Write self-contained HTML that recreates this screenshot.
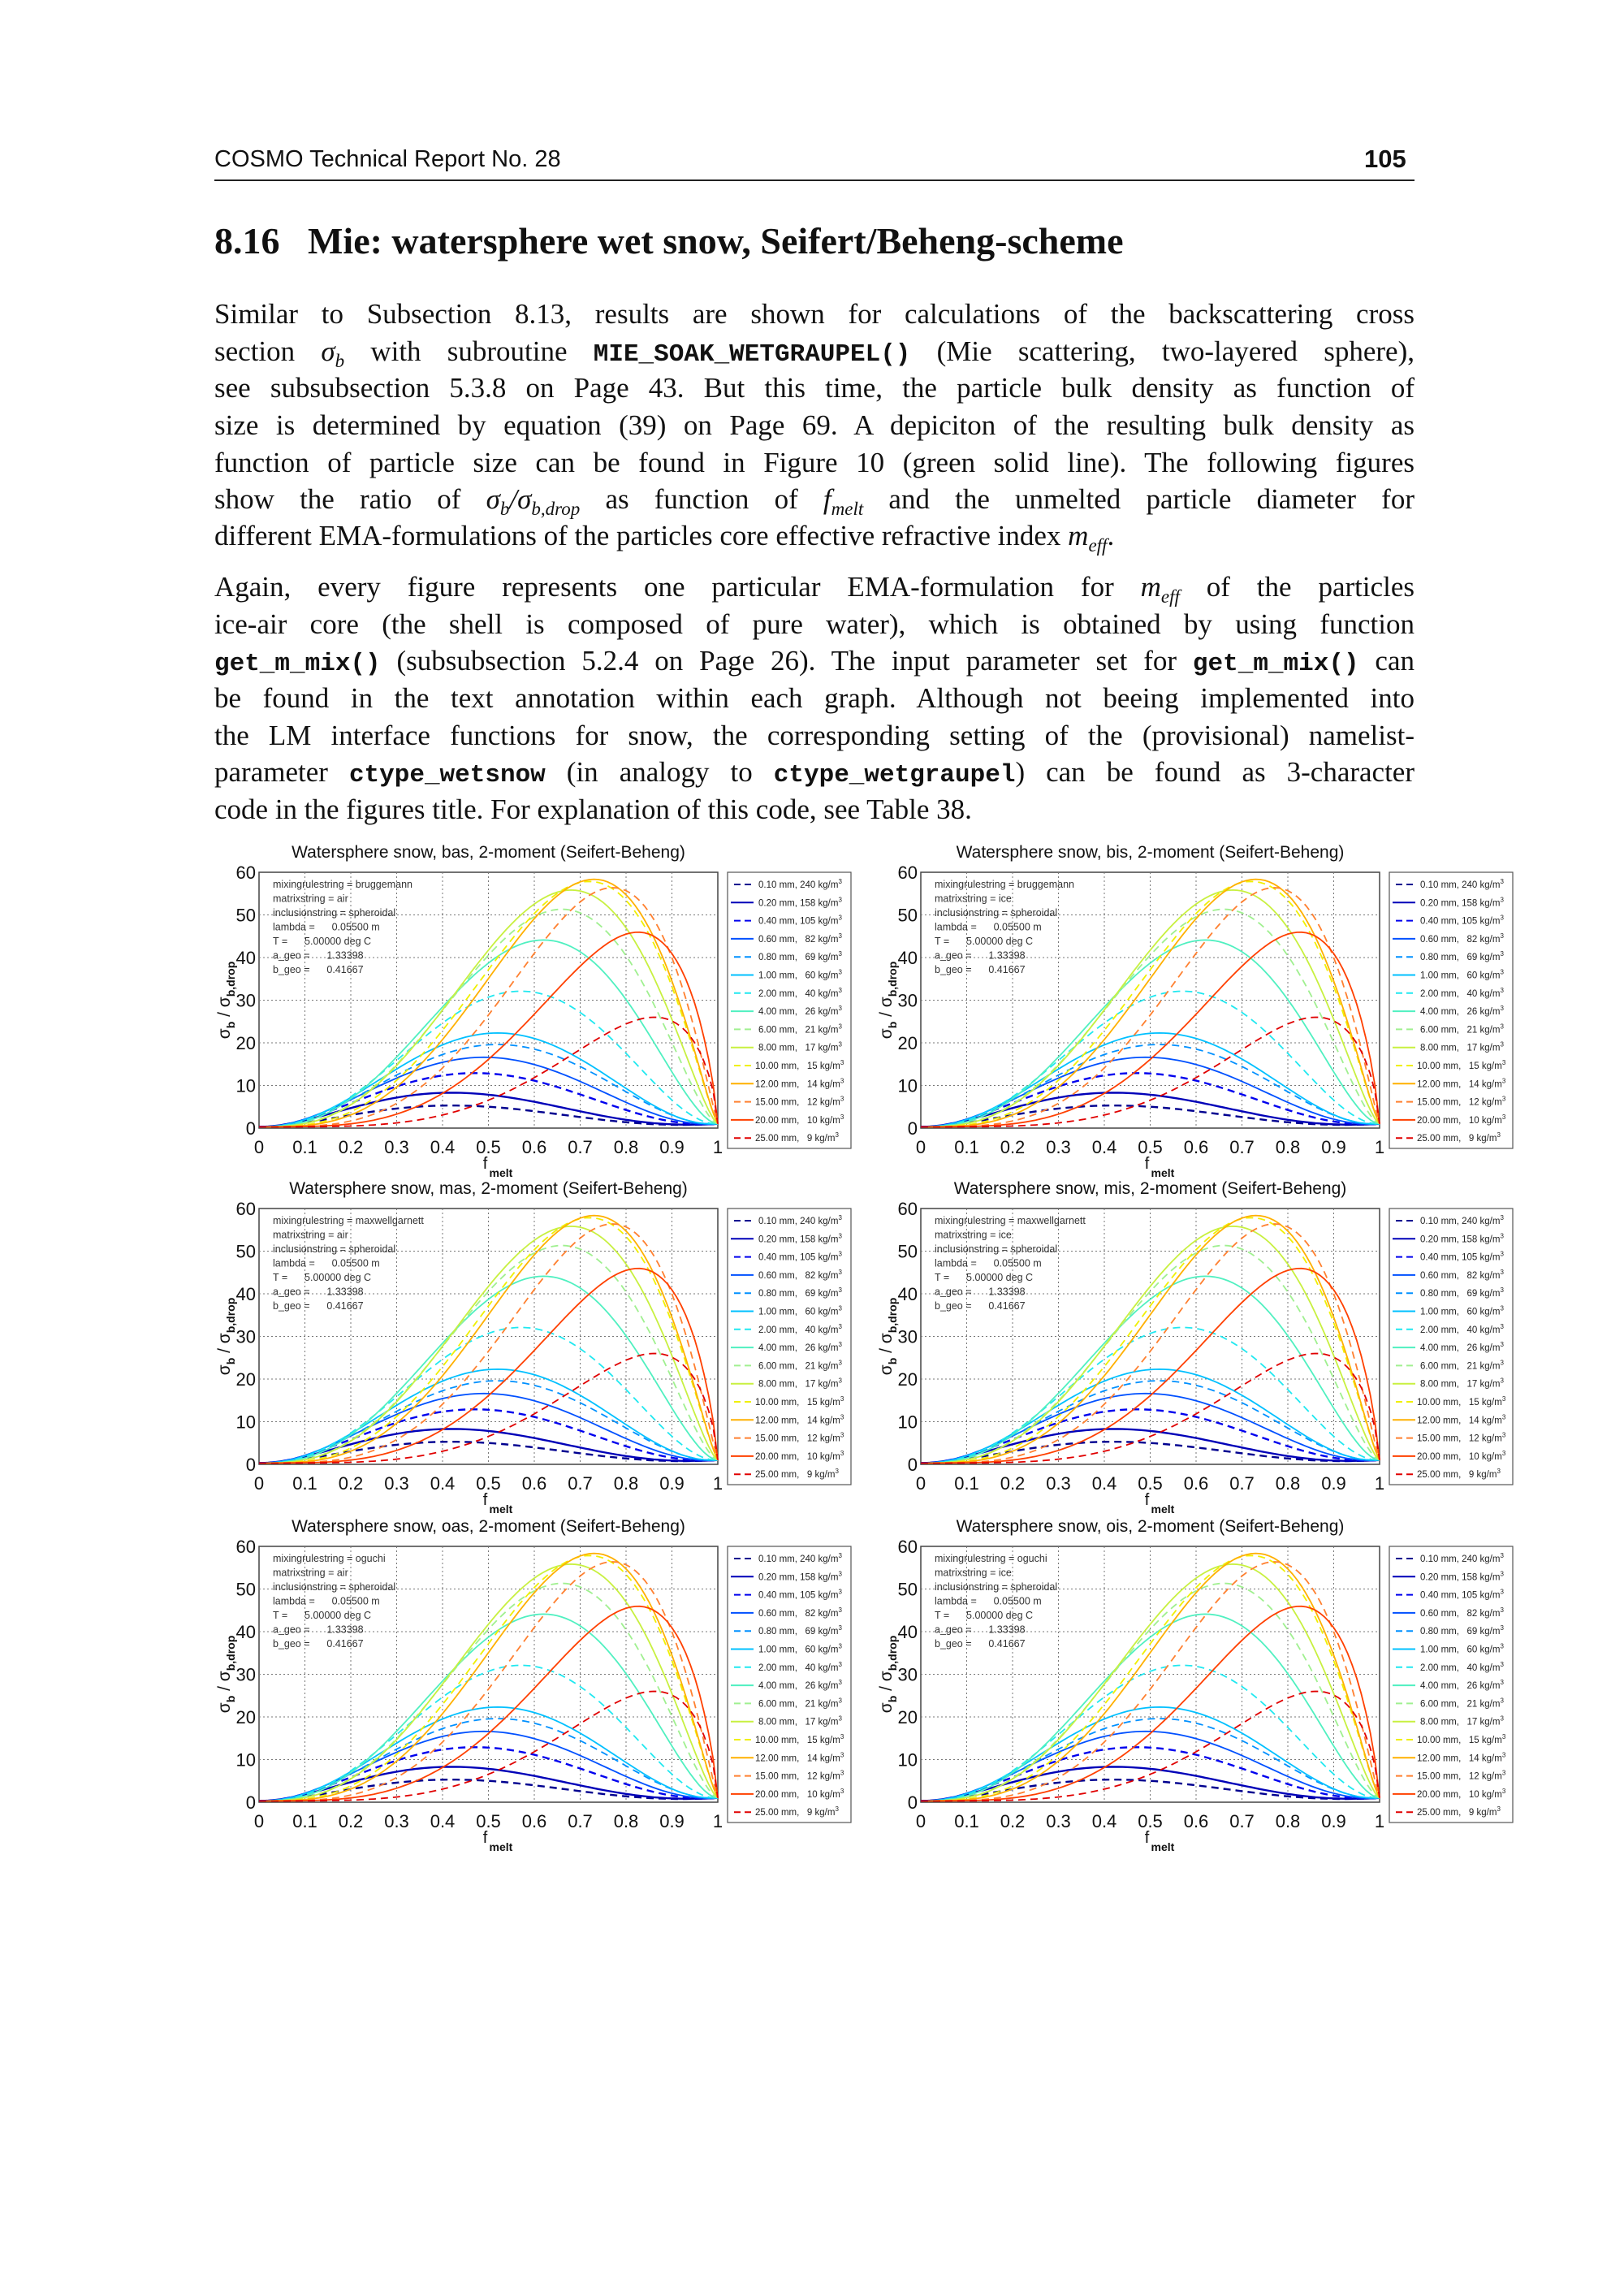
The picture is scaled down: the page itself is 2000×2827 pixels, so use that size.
<!DOCTYPE html>
<html><head><meta charset="utf-8">
<style>
html,body{margin:0;padding:0;background:#fff;}
body{width:2000px;height:2827px;position:relative;overflow:hidden;}
.ab{position:absolute;white-space:nowrap;}
.ln{position:absolute;left:264px;width:1478px;height:46px;line-height:46px;font-family:"Liberation Serif",serif;font-size:35px;color:#111;text-align:justify;text-align-last:justify;white-space:nowrap;}
.ln.last{text-align-last:left;}
.tt{font-family:"Liberation Mono",monospace;font-size:31px;}
.tt b{font-weight:bold;}
i{font-style:italic;}
</style></head><body>
<div class="ab" style="left:264px;top:180px;font-family:'Liberation Sans',sans-serif;font-size:29px;color:#111;">COSMO Technical Report No. 28</div>
<div class="ab" style="left:1680px;top:178px;font-family:'Liberation Sans',sans-serif;font-size:31px;font-weight:bold;color:#111;">105</div>
<div class="ab" style="left:264px;top:221px;width:1478px;height:2px;background:#222;"></div>
<div class="ab" style="left:264px;top:270px;font-family:'Liberation Serif',serif;font-size:46px;font-weight:bold;color:#111;">8.16&nbsp;&nbsp;&nbsp;Mie: watersphere wet snow, Seifert/Beheng-scheme</div>

<div class="ln" style="top:364px">Similar to Subsection 8.13, results are shown for calculations of the backscattering cross</div>
<div class="ln" style="top:410px">section <i>σ<sub style="font-size:23px">b</sub></i> with subroutine <span class="tt"><b>MIE_SOAK_WETGRAUPEL()</b></span> (Mie scattering, two-layered sphere),</div>
<div class="ln" style="top:455px">see subsubsection 5.3.8 on Page 43. But this time, the particle bulk density as function of</div>
<div class="ln" style="top:501px">size is determined by equation (39) on Page 69. A depiciton of the resulting bulk density as</div>
<div class="ln" style="top:547px">function of particle size can be found in Figure 10 (green solid line). The following figures</div>
<div class="ln" style="top:592px">show the ratio of <i>σ<sub style="font-size:23px">b</sub>/σ<sub style="font-size:23px">b,drop</sub></i> as function of <i>f<sub style="font-size:23px">melt</sub></i> and the unmelted particle diameter for</div>
<div class="ln last" style="top:637px">different EMA-formulations of the particles core effective refractive index <i>m<sub style="font-size:23px">eff</sub></i>.</div>

<div class="ln" style="top:700px">Again, every figure represents one particular EMA-formulation for <i>m<sub style="font-size:23px">eff</sub></i> of the particles</div>
<div class="ln" style="top:746px">ice-air core (the shell is composed of pure water), which is obtained by using function</div>
<div class="ln" style="top:791px"><span class="tt"><b>get_m_mix()</b></span> (subsubsection 5.2.4 on Page 26). The input parameter set for <span class="tt"><b>get_m_mix()</b></span> can</div>
<div class="ln" style="top:837px">be found in the text annotation within each graph. Although not beeing implemented into</div>
<div class="ln" style="top:883px">the LM interface functions for snow, the corresponding setting of the (provisional) namelist-</div>
<div class="ln" style="top:928px">parameter <span class="tt"><b>ctype_wetsnow</b></span> (in analogy to <span class="tt"><b>ctype_wetgraupel</b></span>) can be found as 3-character</div>
<div class="ln last" style="top:974px">code in the figures title. For explanation of this code, see Table 38.</div>

<svg id="ch" class="ab" style="left:0;top:0" width="2000" height="2827" xmlns="http://www.w3.org/2000/svg"></svg>
<script>
var S=[
[0.10,240,'#00008f',1,0.42,5,2.0],
[0.20,158,'#0000b8',0,0.42,8,2.0],
[0.40,105,'#0000ee',1,0.47,12.6,2.1],
[0.60,82,'#0050ff',0,0.49,16.3,2.2],
[0.80,69,'#0090ff',1,0.52,19.3,2.3],
[1.00,60,'#00c0ff',0,0.52,22,2.4],
[2.00,40,'#20e8f0',1,0.57,31.8,2.6],
[4.00,26,'#50f0c0',0,0.62,43.8,2.8],
[6.00,21,'#a0f090',1,0.66,51,3.0],
[8.00,17,'#c8f040',0,0.68,55.5,3.0],
[10.00,15,'#f0f000',1,0.72,57.5,3.2],
[12.00,14,'#ffb000',0,0.73,58,3.4],
[15.00,12,'#ff8030',1,0.77,56,3.8],
[20.00,10,'#ff4000',0,0.825,45.5,3.8],
[25.00,9,'#e00000',1,0.86,25.5,4.2]];
var charts=[['bas','bruggemann','air',319,1074],['bis','bruggemann','ice',1134,1074],
['mas','maxwellgarnett','air',319,1488],['mis','maxwellgarnett','ice',1134,1488],
['oas','oguchi','air',319,1904],['ois','oguchi','ice',1134,1904]];
var W=565,H=315,o='';
var F='font-family="Liberation Sans, sans-serif"';
charts.forEach(function(c){
 var L=c[3],T=c[4],B=T+H,R=L+W;
 o+='<text x="'+(L+W/2)+'" y="'+(T-18)+'" '+F+' font-size="21" text-anchor="middle" fill="#111">Watersphere snow, '+c[0]+', 2-moment (Seifert-Beheng)</text>';
 o+='<rect x="'+L+'" y="'+T+'" width="'+W+'" height="'+H+'" fill="#fff" stroke="#444" stroke-width="1.5"/>';
 for(var i=1;i<10;i++){var x=L+W*i/10;o+='<line x1="'+x+'" y1="'+T+'" x2="'+x+'" y2="'+B+'" stroke="#777" stroke-dasharray="2,3"/>';}
 for(var j=1;j<6;j++){var y=B-H*j/6;o+='<line x1="'+L+'" y1="'+y+'" x2="'+R+'" y2="'+y+'" stroke="#777" stroke-dasharray="2,3"/>';}
 for(var i=0;i<=10;i++){var x=L+W*i/10;o+='<text x="'+x+'" y="'+(B+31)+'" '+F+' font-size="22" text-anchor="middle" fill="#111">'+(i==0?'0':i==10?'1':'0.'+i)+'</text>';}
 for(var j=0;j<=6;j++){var y=B-H*j/6;o+='<text x="'+(L-4)+'" y="'+(y+8)+'" '+F+' font-size="22" text-anchor="end" fill="#111">'+(j*10)+'</text>';}
 o+='<text x="'+(L+W/2-4)+'" y="'+(B+50)+'" '+F+' font-size="20" text-anchor="middle" fill="#111">f</text><text x="'+(L+W/2+1)+'" y="'+(B+60)+'" '+F+' font-size="14" font-weight="bold" fill="#111">melt</text>';
 o+='<text transform="translate('+(L-36)+','+(T+H/2)+') rotate(-90)" '+F+' font-size="21" text-anchor="middle" fill="#111">σ<tspan font-size="14" dy="6" font-weight="bold">b</tspan><tspan dy="-6"> / σ</tspan><tspan font-size="14" dy="6" font-weight="bold">b,drop</tspan></text>';
 var ann=['mixingrulestring = '+c[1],'matrixstring = '+c[2],'inclusionstring = spheroidal','lambda =      0.05500 m','T =      5.00000 deg C','a_geo =      1.33398','b_geo =      0.41667'];
 ann.forEach(function(a,k){o+='<text x="'+(L+17)+'" y="'+(T+19+k*17.5)+'" '+F+' font-size="12.5" fill="#333" xml:space="preserve">'+a+'</text>';});
 S.forEach(function(s){
  var xp=s[4],P=s[5],a=s[6],b=a*(1-xp)/xp,pts=[];
  for(var k=0;k<=100;k++){var x=k/100;var g=Math.pow(x/xp,a)*Math.pow((1-x)/(1-xp),b);var v=P*g+0.3+0.7*Math.pow(x,8);
   pts.push((L+W*x).toFixed(1)+','+(B-H*v/60).toFixed(1));}
  o+='<polyline points="'+pts.join(' ')+'" fill="none" stroke="'+s[2]+'" stroke-width="'+(s[0]<0.5?2.4:1.8)+'"'+(s[3]?' stroke-dasharray="9,6"':'')+'/>';
 });
 var lx=R+12,ly=T;
 o+='<rect x="'+lx+'" y="'+ly+'" width="152" height="340" fill="#fff" stroke="#555" stroke-width="1.2"/>';
 S.forEach(function(s,k){var y=ly+15+k*22.3;
  o+='<line x1="'+(lx+(s[3]?8:4))+'" y1="'+y+'" x2="'+(lx+(s[3]?29:32))+'" y2="'+y+'" stroke="'+s[2]+'" stroke-width="2"'+(s[3]?' stroke-dasharray="8,5"':'')+'/>';
  var d=s[0].toFixed(2),r=String(s[1]);
  o+='<text x="'+(lx+(s[0]>=10?34:38))+'" y="'+(y+4)+'" '+F+' font-size="11.5" fill="#222" xml:space="preserve">'+d+' mm, '+(r.length<3?'  ':'')+r+' kg/m<tspan font-size="8" dy="-5">3</tspan></text>';
 });
});
document.getElementById('ch').innerHTML=o;
</script>
</body></html>
